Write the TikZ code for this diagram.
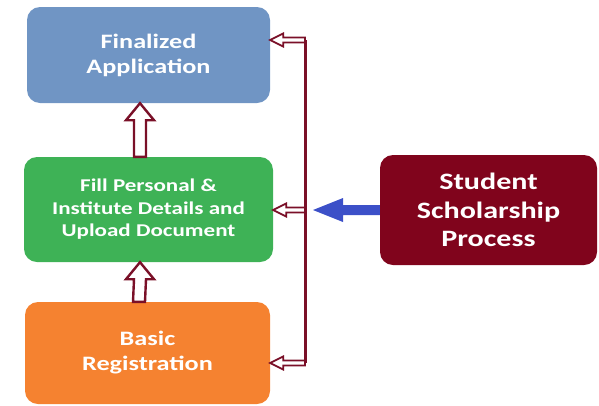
\documentclass[tikz,border=0pt]{standalone}
\usepackage{fontspec}
\setmainfont[FakeStretch=1.28]{Carlito}
\usetikzlibrary{calc}
\definecolor{boxblue}{RGB}{112,149,196}
\definecolor{boxgreen}{RGB}{62,178,86}
\definecolor{boxorange}{RGB}{245,130,48}
\definecolor{boxred}{RGB}{128,4,28}
\definecolor{linered}{RGB}{122,16,40}
\definecolor{arrowblue}{RGB}{60,80,200}
\tikzset{
  stepbox/.style={rectangle, rounded corners=13pt, draw=none, text=white,
    font=\bfseries, align=center, inner sep=0pt},
  hollow/.style={draw=linered, fill=white, line width=2.4pt, line join=miter},
  thinhollow/.style={draw=linered, fill=white, line width=1.8pt, line join=miter},
  bar/.style={draw=linered, line width=3pt}
}
\begin{document}
\begin{tikzpicture}[x=1pt,y=-1pt]
\useasboundingbox (0,0) rectangle (599,405);
\node[stepbox, fill=boxblue, minimum width=243pt, minimum height=96pt,
  font=\fontsize{20.5}{25}\selectfont\bfseries] (fin) at (148.5,55) {Finalized\\Application};
\node[stepbox, fill=boxgreen, minimum width=249pt, minimum height=105pt,
  font=\fontsize{18}{22.5}\selectfont\bfseries] (fill) at (148.5,209.5) {Fill Personal \&\\Institute Details and\\Upload Document};
\node[stepbox, fill=boxorange, minimum width=245pt, minimum height=102pt,
  font=\fontsize{20.5}{25}\selectfont\bfseries] (reg) at (147.5,353) {Basic\\Registration};
\node[stepbox, fill=boxred, minimum width=217pt, minimum height=110pt,
  font=\fontsize{23.5}{28.5}\selectfont\bfseries] (ssp) at (488.5,210) {Student\\Scholarship\\Process};
% vertical bus
\coordinate (top) at (305,40);
\coordinate (mid) at (305,210);
\coordinate (bot) at (305,363);
% left hollow arrows
\foreach \b/\c in {fin/top, fill/mid, reg/bot}{
  \coordinate (T) at (\b.east |- \c);
  \draw[thinhollow] (T) -- ($(T)+(13,-6.5)$) -- ($(T)+(13,-2.5)$) -- ($(\c)+(0,-2.5)$)
    -- ($(\c)+(0,2.5)$) -- ($(T)+(13,2.5)$) -- ($(T)+(13,6.5)$) -- cycle;
}
\draw[bar] (top) -- (bot);
% up hollow arrows
\foreach \a/\b in {fill/fin, reg/fill}{
  \coordinate (T) at ([xshift=-8.5pt]\b.south);
  \coordinate (B) at ([xshift=-8.5pt]\a.north);
  \draw[hollow] (T) -- ($(T)+(14,17)$) -- ($(T)+(6,17)$) -- ($(B)+(6,0)$)
    -- ($(B)+(-6,0)$) -- ($(T)+(-6,17)$) -- ($(T)+(-14,17)$) -- cycle;
}
% blue arrow
\coordinate (bt) at (313,210);
\fill[arrowblue] (bt) -- ($(bt)+(30,-12)$) -- ($(bt)+(30,-5)$) -- ([yshift=5pt]ssp.west)
  -- ([yshift=-5pt]ssp.west) -- ($(bt)+(30,5)$) -- ($(bt)+(30,12)$) -- cycle;
\end{tikzpicture}
\end{document}
